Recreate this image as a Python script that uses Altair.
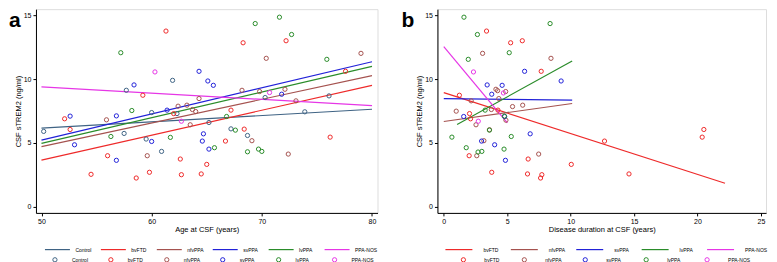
import altair as alt
import pandas as pd

# ---------------- data ----------------
GROUPS_A = ["Control", "bvFTD", "nfvPPA", "svPPA", "lvPPA", "PPA-NOS"]
COLORS_A = ["#3f6384", "#ee2a2a", "#a5524f", "#2222d8", "#2a8c2a", "#e636e6"]
GROUPS_B = ["bvFTD", "nfvPPA", "svPPA", "lvPPA", "PPA-NOS"]
COLORS_B = ["#ee2a2a", "#a5524f", "#2222d8", "#2a8c2a", "#e636e6"]

# Panel a: age at CSF (years) vs CSF sTREM2 (ng/ml)
AGE_CONTROL = [50.2, 57.7, 70.3, 76.1, 73.9, 60.0, 62.3, 65.2, 67.2, 57.5, 59.5, 60.9, 68.7, 61.9]
TREM_A_CONTROL = [5.9, 9.13, 8.56, 8.69, 7.44, 7.38, 7.3, 6.6, 6.1, 5.74, 5.3, 4.33, 5.58, 9.91]
AGE_BVFTD = [52.1, 52.6, 56.0, 54.5, 58.6, 59.8, 59.2, 61.3, 62.0, 62.6, 62.7, 64.5, 65.0, 66.7, 67.2, 68.3, 68.4, 72.2, 76.2, 77.6]
TREM_A_BVFTD = [6.89, 6.05, 3.99, 2.53, 2.24, 2.69, 8.74, 13.78, 7.3, 3.73, 2.5, 2.56, 3.31, 5.14, 7.57, 12.86, 6.08, 13.02, 5.45, 10.62]
AGE_NFVPPA = [55.9, 59.6, 62.4, 63.2, 63.7, 64.0, 63.5, 64.3, 68.2, 69.1, 69.8, 70.4, 72.1, 72.4, 73.1, 79.0]
TREM_A_NFVPPA = [6.81, 3.99, 7.88, 7.96, 7.62, 7.46, 6.42, 8.48, 9.13, 5.17, 9.03, 11.64, 9.21, 4.12, 8.3, 12.03]
AGE_SVPPA = [52.6, 53.0, 56.8, 56.8, 58.4, 60.0, 61.4, 64.7, 64.6, 65.2, 64.3, 65.1, 65.6, 71.8]
TREM_A_SVPPA = [7.1, 4.85, 7.12, 3.63, 9.55, 5.11, 7.57, 5.71, 5.14, 4.51, 10.62, 9.86, 9.52, 8.82]
AGE_LVPPA = [56.3, 57.2, 58.2, 61.7, 65.7, 66.8, 67.6, 68.7, 69.4, 69.7, 70.0, 71.6, 72.7, 75.9]
TREM_A_LVPPA = [5.5, 12.08, 7.54, 5.43, 4.62, 7.07, 6.0, 4.3, 14.37, 4.51, 4.33, 14.87, 13.51, 11.56]
AGE_PPANOS = [60.3, 62.7, 70.7]
TREM_A_PPANOS = [10.57, 6.7, 8.95]

# Panel a regression lines (start / end)
FIT_A_X0 = [50, 50, 50, 50, 50, 50]
FIT_A_X1 = [80, 80, 80, 80, 80, 80]
FIT_A_Y0 = [6.16, 3.65, 4.70, 5.22, 4.96, 9.39]
FIT_A_Y1 = [7.64, 9.52, 10.28, 11.37, 11.01, 7.93]

# Panel b: disease duration at CSF (years) vs CSF sTREM2 (ng/ml)
DUR_BVFTD = [3.37, 5.27, 6.19, 7.68, 1.23, 4.27, 2.03, 2.11, 12.67, 2.0, 6.65, 10.05, 20.37, 20.5, 3.78, 6.6, 7.73, 7.63, 14.6]
TREM_B_BVFTD = [13.78, 12.86, 13.02, 10.62, 8.74, 7.57, 7.3, 6.89, 5.14, 3.99, 3.73, 3.31, 5.45, 6.05, 2.69, 2.56, 2.5, 2.24, 2.56]
DUR_NFVPPA = [3.06, 8.45, 4.11, 4.24, 4.88, 4.34, 2.16, 0.98, 3.75, 5.42, 6.22, 4.9, 2.54, 3.6, 3.16, 7.48, 2.6]
TREM_B_NFVPPA = [12.03, 11.64, 9.21, 9.1, 9.03, 8.48, 8.3, 7.49, 7.62, 7.85, 7.96, 6.78, 6.42, 6.03, 5.17, 4.12, 3.99]
DUR_SVPPA = [6.37, 9.25, 3.42, 4.6, 3.78, 1.57, 4.8, 6.81, 2.98, 4.01, 4.86]
TREM_B_SVPPA = [10.62, 9.86, 9.55, 9.52, 8.82, 7.07, 7.07, 5.71, 5.14, 4.85, 3.63]
DUR_LVPPA = [1.59, 8.38, 2.65, 5.16, 1.93, 3.26, 4.78, 3.6, 0.64, 5.32, 1.77, 4.75, 2.7, 3.0]
TREM_B_LVPPA = [14.87, 14.37, 13.51, 12.08, 11.56, 7.57, 7.1, 6.0, 5.45, 5.5, 4.62, 4.51, 4.28, 4.33]
DUR_PPANOS = [2.34, 4.7, 2.72]
TREM_B_PPANOS = [10.57, 8.92, 6.7]

FIT_B_X0 = [0, 0, 0, 1.05, 0]
FIT_B_X1 = [22.17, 10.12, 10.12, 10.12, 5.01]
FIT_B_Y0 = [8.95, 6.68, 8.48, 6.44, 12.55]
FIT_B_Y1 = [1.83, 8.09, 8.35, 11.43, 6.57]

FONT = "Liberation Sans"


def points_frame(groups, xs, ys):
    rows = []
    for g, xv, yv in zip(groups, xs, ys):
        for a, b in zip(xv, yv):
            rows.append({"grp": g, "x": a, "y": b})
    return pd.DataFrame(rows)


def lines_frame(groups, x0, x1, y0, y1):
    rows = []
    for g, a0, a1, b0, b1 in zip(groups, x0, x1, y0, y1):
        rows.append({"group": g, "x": a0, "y": b0})
        rows.append({"group": g, "x": a1, "y": b1})
    return pd.DataFrame(rows)


pts_a = points_frame(
    GROUPS_A,
    [AGE_CONTROL, AGE_BVFTD, AGE_NFVPPA, AGE_SVPPA, AGE_LVPPA, AGE_PPANOS],
    [TREM_A_CONTROL, TREM_A_BVFTD, TREM_A_NFVPPA, TREM_A_SVPPA, TREM_A_LVPPA, TREM_A_PPANOS],
)
lin_a = lines_frame(GROUPS_A, FIT_A_X0, FIT_A_X1, FIT_A_Y0, FIT_A_Y1)
pts_b = points_frame(
    GROUPS_B,
    [DUR_BVFTD, DUR_NFVPPA, DUR_SVPPA, DUR_LVPPA, DUR_PPANOS],
    [TREM_B_BVFTD, TREM_B_NFVPPA, TREM_B_SVPPA, TREM_B_LVPPA, TREM_B_PPANOS],
)
lin_b = lines_frame(GROUPS_B, FIT_B_X0, FIT_B_X1, FIT_B_Y0, FIT_B_Y1)


def axis(values, title, tpad):
    return alt.Axis(
        values=values, title=title, grid=False, tickSize=3, tickColor="black",
        domainColor="black", labelColor="black", titleColor="black",
        labelFontSize=7, titleFontSize=7.5, titleFontWeight="normal",
        labelFont=FONT, titleFont=FONT, labelPadding=2, titlePadding=tpad,
        format="d",
    )


def panel(pts, lin, groups, colors, xdom, xticks, xtitle, label, w, leg):
    xs = alt.Scale(domain=xdom, nice=False, zero=False)
    ys = alt.Scale(domain=[-0.5, 15.5], nice=False, zero=False)
    lines = alt.Chart(lin).mark_line(strokeWidth=1.2).encode(
        x=alt.X("x:Q", scale=xs, axis=axis(xticks, xtitle, 1)),
        y=alt.Y("y:Q", scale=ys, axis=axis([0, 5, 10, 15], "CSF sTREM2 (ng/ml)", 1)),
        color=alt.Color(
            "group:N",
            scale=alt.Scale(domain=groups, range=colors),
            legend=alt.Legend(
                title=None, orient="none", legendX=leg["lx"], legendY=239.5 - leg["ls"] / 2,
                direction="horizontal", columns=len(groups), gridAlign="all",
                symbolType="stroke", symbolSize=leg["ls"] ** 2, symbolStrokeWidth=1.2,
                labelFontSize=5, labelFont=FONT, labelColor="black",
                labelOffset=leg["lo"], columnPadding=leg["lc"], padding=0,
            ),
        ),
    )
    dots = alt.Chart(pts).mark_point(
        shape="circle", filled=False, size=18, strokeWidth=1, opacity=1
    ).encode(
        x=alt.X("x:Q", scale=xs),
        y=alt.Y("y:Q", scale=ys),
        stroke=alt.Stroke(
            "grp:N",
            sort=groups,
            scale=alt.Scale(range=colors),
            legend=alt.Legend(
                title=None, orient="none", legendX=leg["px"], legendY=247.5,
                direction="horizontal", columns=len(groups), gridAlign="all",
                symbolType="circle", symbolSize=18, symbolStrokeWidth=1,
                labelFontSize=5, labelFont=FONT, labelColor="black",
                labelOffset=leg["po"], columnPadding=leg["pc"], padding=0,
            ),
        ),
    )
    tag = alt.Chart(pd.DataFrame({"t": [label]})).mark_text(
        align="left", baseline="middle", fontSize=21, fontWeight="bold", font=FONT, color="black"
    ).encode(text="t:N", x=alt.value(leg["tx"]), y=alt.value(12))
    return alt.layer(lines, dots, tag).properties(width=w, height=204)


pa = panel(pts_a, lin_a, GROUPS_A, COLORS_A, [49.5, 80.5], [50, 60, 70, 80],
           "Age at CSF (years)", "a", 342,
           {"lx": 8, "ls": 25, "lo": 4.5, "lc": 0, "px": 16, "po": 14, "pc": 11, "tx": -27})
pb = panel(pts_b, lin_b, GROUPS_B, COLORS_B, [-0.5, 25.4], [0, 5, 10, 15, 20, 25],
           "Disease duration at CSF (years)", "b", 329,
           {"lx": 7, "ls": 27, "lo": 10, "lc": 1.5, "px": 23, "po": 18, "pc": 12, "tx": -36})

chart = alt.hconcat(pa, pb, spacing=22).resolve_scale(
    x="independent", y="independent", color="independent", stroke="independent"
).resolve_legend(color="independent", stroke="independent").properties(
    padding=0
).configure_view(stroke=None).configure(background="white")

chart.save("out.html", embed_options={"renderer": "svg", "actions": False})
